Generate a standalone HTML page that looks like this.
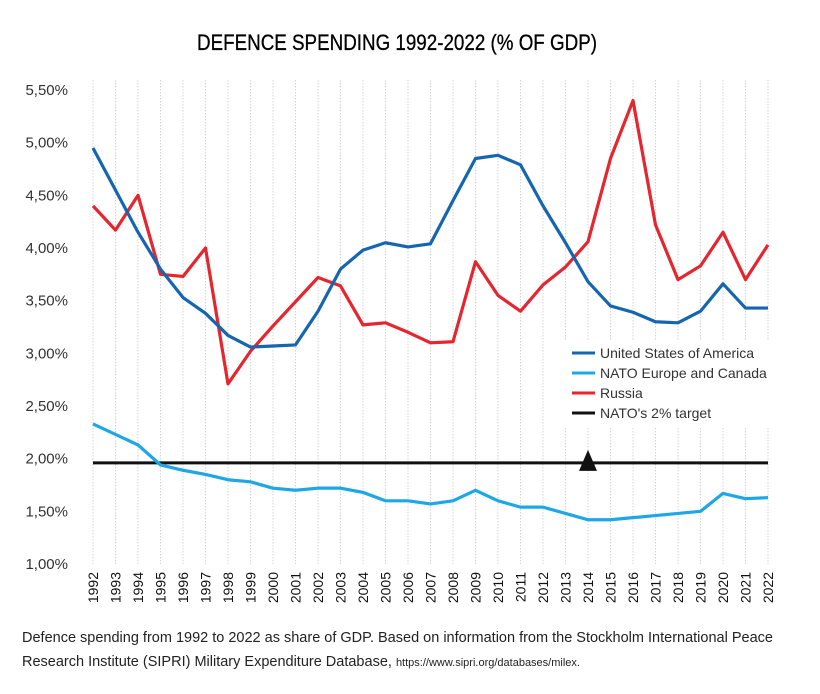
<!DOCTYPE html>
<html><head><meta charset="utf-8"><style>
body{margin:0;background:#fff;width:820px;height:689px;overflow:hidden;font-family:"Liberation Sans",sans-serif}
</style></head><body>
<svg width="820" height="689" id="chart" font-family="Liberation Sans, sans-serif">
<text x="397" y="50" text-anchor="middle" font-size="22" fill="#000" stroke="#000" stroke-width="0.3" textLength="400" lengthAdjust="spacingAndGlyphs">DEFENCE SPENDING 1992-2022 (% OF GDP)</text>
<g id="grid"></g><g id="yaxis"></g><g id="xaxis"></g><g id="series"></g>
<g>
<rect x="565" y="340" width="212" height="88" fill="#fff"/>
<g font-size="14" fill="#333">
<line x1="572" y1="353" x2="595" y2="353" stroke="#1565b0" stroke-width="3"/><text x="600" y="358">United States of America</text>
<line x1="572" y1="373" x2="595" y2="373" stroke="#1ea7e6" stroke-width="3"/><text x="600" y="378">NATO Europe and Canada</text>
<line x1="572" y1="393" x2="595" y2="393" stroke="#e5262f" stroke-width="3"/><text x="600" y="398">Russia</text>
<line x1="572" y1="413" x2="595" y2="413" stroke="#111" stroke-width="3"/><text x="600" y="418">NATO's 2% target</text>
</g></g>
<text x="22" y="642" font-size="14.5" fill="#222">Defence spending from 1992 to 2022 as share of GDP. Based on information from the Stockholm International Peace</text>
<text x="22" y="666" font-size="14.5" fill="#222">Research Institute (SIPRI) Military Expenditure Database, <tspan font-size="11">https://www.sipri.org/databases/milex.</tspan></text>
</svg>
<script>
const years=[];for(let y=1992;y<=2022;y++)years.push(y);
const usa=[4.95,4.55,4.15,3.8,3.53,3.38,3.17,3.06,3.07,3.08,3.4,3.8,3.98,4.05,4.01,4.04,4.45,4.85,4.88,4.79,4.4,4.05,3.68,3.45,3.39,3.3,3.29,3.4,3.66,3.43,3.43];
const russia=[4.4,4.17,4.5,3.75,3.73,4.0,2.71,3.02,3.26,3.49,3.72,3.64,3.27,3.29,3.2,3.1,3.11,3.87,3.55,3.4,3.65,3.82,4.06,4.85,5.4,4.22,3.7,3.83,4.15,3.7,4.03];
const nato=[2.33,2.23,2.13,1.94,1.89,1.85,1.8,1.78,1.72,1.7,1.72,1.72,1.68,1.6,1.6,1.57,1.6,1.7,1.6,1.54,1.54,1.48,1.42,1.42,1.44,1.46,1.48,1.5,1.67,1.62,1.63];
const target=[1.96];
const yTicks=[1,1.5,2,2.5,3,3.5,4,4.5,5,5.5];
const yTickLabels=["1,00%","1,50%","2,00%","2,50%","3,00%","3,50%","4,00%","4,50%","5,00%","5,50%"];
const markerYear=[2014];
const NS="http://www.w3.org/2000/svg";
const X=y=>93+(y-1992)*22.5, Y=v=>564-(v-1)*105.33;
function mk(tag,attrs,parent){const e=document.createElementNS(NS,tag);for(const k in attrs)e.setAttribute(k,attrs[k]);document.getElementById(parent).appendChild(e);return e;}
years.forEach(y=>{
 const g=mk('line',{x1:X(y),x2:X(y),y1:80,y2:564,stroke:'#d4d4d4','stroke-width':1,'stroke-dasharray':'1.5 1.5'},'grid');
 
 
 const t=mk('text',{x:0,y:0,transform:`translate(${X(y)+5},${572}) rotate(-90)`,'text-anchor':'end','font-size':14,fill:'#111'},'xaxis');
 t.textContent=y;
 
 
});
yTicks.forEach((v,i)=>{
 const t=mk('text',{x:68,y:Y(v)+5,'text-anchor':'end','font-size':15,fill:'#333'},'yaxis');
 t.textContent=yTickLabels[i];
 
 
});
function line(data,color,name){
 const p=mk('polyline',{points:data.map((v,i)=>X(years[i])+','+Y(v)).join(' '),fill:'none',stroke:color,'stroke-width':3.2,'stroke-linejoin':'round'},'series');
 
 
}
const tl=mk('line',{x1:X(1992),x2:X(2022),y1:Y(target[0]),y2:Y(target[0]),stroke:'#111','stroke-width':3},'series');


line(nato,'#1ea7e6','nato-europe-canada-line');
line(russia,'#e5262f','russia-line');
line(usa,'#1565b0','usa-line');
const mx=X(markerYear[0]),my=Y(target[0]);
const tri=mk('polygon',{points:`${mx-9},${my+8} ${mx+9},${my+8} ${mx},${my-13}`,fill:'#111'},'series');


</script>
</body></html>
